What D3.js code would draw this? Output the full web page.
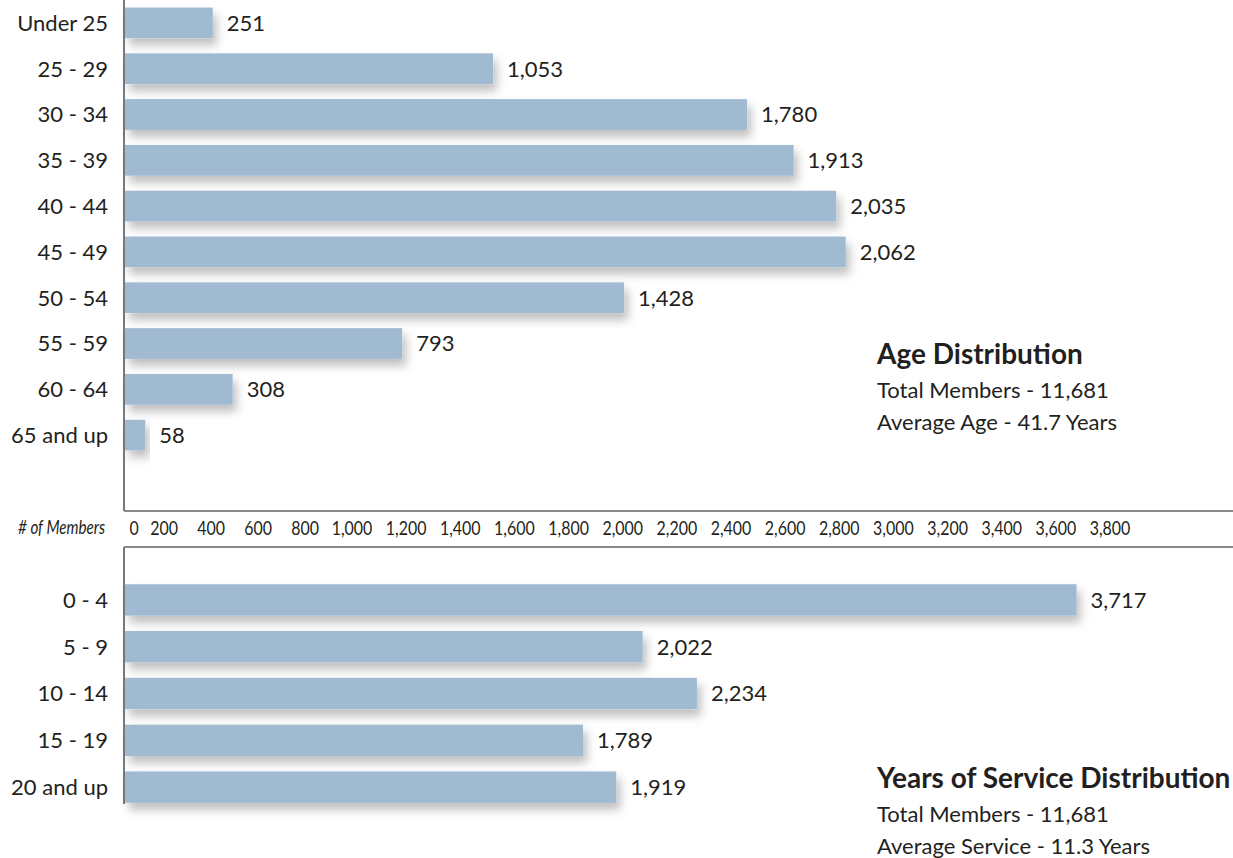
<!DOCTYPE html>
<html>
<head>
<meta charset="utf-8">
<script src="https://cdn.jsdelivr.net/npm/d3@7/dist/d3.min.js"></script>
<style>
  body { margin: 0; background: #fff; }
  #chart text { fill: #231f20; }
  .lbl { font-family: Lato, "Open Sans", sans-serif; font-size: 22px; }
  .tick { font-family: Lato, "Open Sans", sans-serif; font-size: 19px; }
  .title { font-family: Lato, "Open Sans", sans-serif; font-size: 28px; font-weight: bold; }
</style>
</head>
<body>
<svg id="chart" width="1233" height="858"></svg>
<script>
// age distribution
const ageCategories = ["Under 25", "25 - 29", "30 - 34", "35 - 39", "40 - 44", "45 - 49", "50 - 54", "55 - 59", "60 - 64", "65 and up"];
const ageValues = [251, 1053, 1780, 1913, 2035, 2062, 1428, 793, 308, 58];

// years of service distribution
const serviceCategories = ["0 - 4", "5 - 9", "10 - 14", "15 - 19", "20 and up"];
const serviceValues = [3717, 2022, 2234, 1789, 1919];

// "# of Members" axis labels
const tickValues = [0, 200, 400, 600, 800, 1000, 1200, 1400, 1600, 1800, 2000, 2200, 2400, 2600, 2800, 3000, 3200, 3400, 3600, 3800];

const ageSummary = ["Age Distribution", "Total Members - 11,681", "Average Age - 41.7 Years"];
const serviceSummary = ["Years of Service Distribution", "Total Members - 11,681", "Average Service - 11.3 Years"];

const svg = d3.select("#chart");
const fmt = d3.format(",");
const x0 = 125;

// soft drop shadow under the bars
const f = svg.append("defs").append("filter")
  .attr("id", "shadow").attr("x", "-10%").attr("y", "-50%").attr("width", "130%").attr("height", "250%");
f.append("feDropShadow")
  .attr("dx", 4).attr("dy", 7).attr("stdDeviation", 5)
  .attr("flood-color", "#000").attr("flood-opacity", 0.25);

function panel(cats, vals, xScale, yTop, yBottom, summary, sumY) {
  const y = d3.scaleBand().domain(cats).range([yTop, yBottom]).paddingInner(0.33).paddingOuter(0.165);
  const g = svg.append("g");

  g.selectAll("rect").data(vals).join("rect")
    .attr("x", x0)
    .attr("y", (d, i) => y(cats[i]))
    .attr("width", d => xScale(d) - x0)
    .attr("height", y.bandwidth())
    .attr("fill", "#9fbad1")
    .attr("filter", "url(#shadow)");

  g.selectAll("text.val").data(vals).join("text")
    .attr("class", "lbl val")
    .attr("x", d => xScale(d) + 14)
    .attr("y", (d, i) => y(cats[i]) + y.bandwidth() / 2)
    .attr("dy", "0.36em")
    .text(d => fmt(d));

  g.selectAll("text.cat").data(cats).join("text")
    .attr("class", "lbl cat")
    .attr("x", 108)
    .attr("y", d => y(d) + y.bandwidth() / 2)
    .attr("dy", "0.36em")
    .attr("text-anchor", "end")
    .text(d => d);

  g.selectAll("text.sum").data(summary).join("text")
    .attr("class", (d, i) => i === 0 ? "title sum" : "lbl sum")
    .attr("x", 877)
    .attr("y", (d, i) => sumY + (i === 0 ? 0 : 34 + (i - 1) * 32))
    .text(d => d);
}

const xAge = d3.scaleLinear().domain([0, 3000]).range([x0, x0 + 3000 * 0.3495]);
const xService = d3.scaleLinear().domain([0, 4000]).range([x0, x0 + 4000 * 0.256]);

panel(ageCategories, ageValues, xAge, 0, 458, ageSummary, 364);
panel(serviceCategories, serviceValues, xService, 576.5, 810.5, serviceSummary, 788);

// axis frame
const line = (x1, y1, x2, y2, c, w) => svg.append("line")
  .attr("x1", x1).attr("y1", y1).attr("x2", x2).attr("y2", y2)
  .attr("stroke", c).attr("stroke-width", w);
line(124, 0, 124, 511, "#4d4d4f", 1.5);
line(124, 547, 124, 804, "#4d4d4f", 1.5);
line(124, 511, 1233, 511, "#8a8a8c", 1.8);
line(124, 547, 1233, 547, "#8a8a8c", 1.8);

// tick labels are hand-spaced in the original, so the scale is piecewise
const xTick = d3.scaleLinear().domain([0, 200, 1000, 3800]).range([134, 164, 352, 1110]);
svg.append("g").selectAll("text").data(tickValues).join("text")
  .attr("class", "tick")
  .attr("transform", d => `translate(${xTick(d)},528) scale(0.84,1)`)
  .attr("dy", "0.36em")
  .attr("text-anchor", "middle")
  .text(d => fmt(d));

svg.append("text")
  .attr("class", "tick")
  .attr("transform", "translate(105,527) scale(0.8,1)")
  .attr("dy", "0.36em")
  .attr("text-anchor", "end")
  .style("font-style", "italic")
  .text("# of Members");
</script>
</body>
</html>
